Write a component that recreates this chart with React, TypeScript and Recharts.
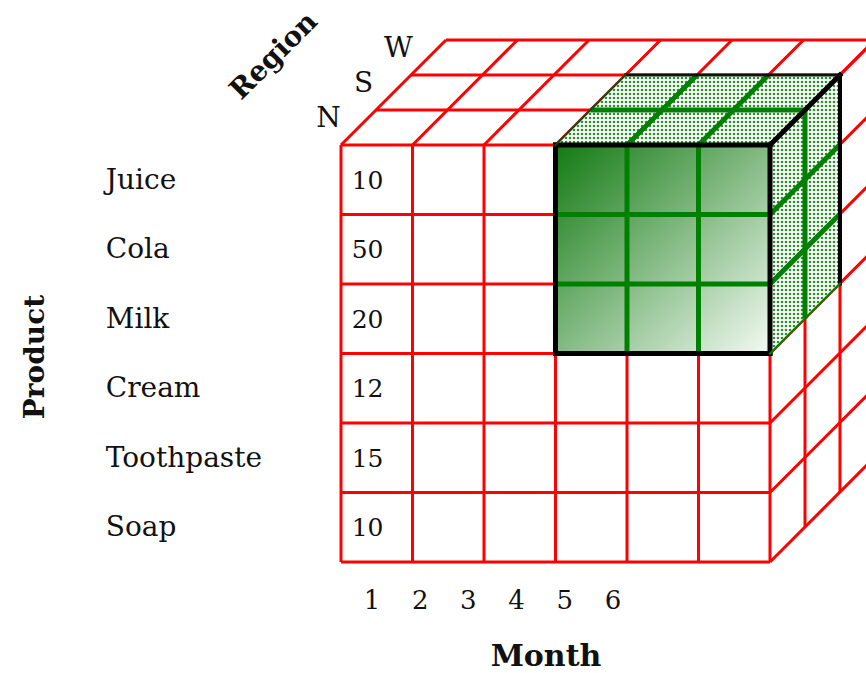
import React from 'react';
import { ComposedChart, XAxis, YAxis, Area, Scatter, ReferenceLine, Customized } from 'recharts';

// cube dimensions
const products = ['Juice', 'Cola', 'Milk', 'Cream', 'Toothpaste', 'Soap'];
const months = [1, 2, 3, 4, 5, 6];
const regions = ['N', 'S', 'W'];
// sales shown in the month-1 column, region N
const month1Sales = [10, 50, 20, 12, 15, 10];

// highlighted sub-cube: months 4..6, products Juice..Milk, regions N..S
const sliceMonths = [4, 5, 6];
const sliceProducts = ['Juice', 'Cola', 'Milk'];
const sliceRegions = ['N', 'S'];

const W = 866;
const H = 673;
const FONT = '"DejaVu Serif", serif';
const RED = '#ff0000';
const GREEN = '#008000';

// oblique projection of the depth (region) axis, in grid units
const DX = 0.4895;
const DY = 0.5036;
const X_DOMAIN = [-4.7692, 7.3427];
const Y_DOMAIN = [-1.5971, 8.0863];
// month tick row sits below the cube with its own spacing
const MONTH_DOMAIN = [-6.7178, 11.249];
const MONTH_ROW_Y = -0.55;

const nM = months.length;
const nP = products.length;
const nR = regions.length;

type Pt = { x: number; y: number };
const proj = (x: number, y: number, d: number): Pt => ({ x: x + d * DX, y: y + d * DY });
const seg = (a: Pt, b: Pt) => [a, b];

// red wire grid
const redSegs: Pt[][] = [];
for (let j = 0; j <= nP; j++) redSegs.push(seg(proj(0, j, 0), proj(nM, j, 0)));
for (let i = 0; i <= nM; i++) redSegs.push(seg(proj(i, 0, 0), proj(i, nP, 0)));
for (let d = 1; d <= nR; d++) redSegs.push(seg(proj(0, nP, d), proj(nM, nP, d)));
for (let i = 0; i <= nM; i++) redSegs.push(seg(proj(i, nP, 0), proj(i, nP, nR)));
for (let d = 1; d <= nR; d++) redSegs.push(seg(proj(nM, 0, d), proj(nM, nP, d)));
for (let j = 0; j <= nP; j++) redSegs.push(seg(proj(nM, j, 0), proj(nM, j, nR)));

// slice bounds in grid units
const sx0 = months.indexOf(sliceMonths[0]);
const sx1 = months.indexOf(sliceMonths[sliceMonths.length - 1]) + 1;
const sy1 = nP - products.indexOf(sliceProducts[0]);
const sy0 = nP - products.indexOf(sliceProducts[sliceProducts.length - 1]) - 1;
const sd = regions.indexOf(sliceRegions[sliceRegions.length - 1]) + 1;

const frontFace = [
  { x: sx0, r: [sy0, sy1] },
  { x: sx1, r: [sy0, sy1] },
];
const topFace = [
  { x: sx0, r: [sy1, sy1] },
  { x: sx0 + sd * DX, r: [sy1, sy1 + sd * DY] },
  { x: sx1, r: [sy1, sy1 + sd * DY] },
  { x: sx1 + sd * DX, r: [sy1 + sd * DY, sy1 + sd * DY] },
];
const sideFace = [
  { x: sx1, r: [sy0, sy1] },
  { x: sx1 + sd * DX, r: [sy0 + sd * DY, sy1 + sd * DY] },
];

const greenSegs: Pt[][] = [];
for (let i = sx0 + 1; i < sx1; i++) {
  greenSegs.push(seg(proj(i, sy0, 0), proj(i, sy1, 0)));
  greenSegs.push(seg(proj(i, sy1, 0), proj(i, sy1, sd)));
}
for (let j = sy0 + 1; j < sy1; j++) {
  greenSegs.push(seg(proj(sx0, j, 0), proj(sx1, j, 0)));
  greenSegs.push(seg(proj(sx1, j, 0), proj(sx1, j, sd)));
}
for (let d = 1; d < sd; d++) {
  greenSegs.push(seg(proj(sx0, sy1, d), proj(sx1, sy1, d)));
  greenSegs.push(seg(proj(sx1, sy0, d), proj(sx1, sy1, d)));
}

const edges = [
  { s: seg(proj(sx0, sy0, 0), proj(sx1, sy0, 0)), c: '#000', w: 5 },
  { s: seg(proj(sx0, sy1, 0), proj(sx1, sy1, 0)), c: '#000', w: 5 },
  { s: seg(proj(sx0, sy0, 0), proj(sx0, sy1, 0)), c: '#000', w: 5 },
  { s: seg(proj(sx1, sy0, 0), proj(sx1, sy1, 0)), c: '#000', w: 5 },
  { s: seg(proj(sx1, sy1, 0), proj(sx1, sy1, sd)), c: '#000', w: 5 },
  { s: seg(proj(sx1, sy0, sd), proj(sx1, sy1, sd)), c: '#000', w: 4 },
  { s: seg(proj(sx0, sy1, sd), proj(sx1, sy1, sd)), c: '#111', w: 3 },
  { s: seg(proj(sx0, sy1, 0), proj(sx0, sy1, sd)), c: '#0a4f0a', w: 2 },
  { s: seg(proj(sx1, sy0, 0), proj(sx1, sy0, sd)), c: GREEN, w: 2 },
];

// text marks placed through the scales
const LABEL_X = -3.29;
const VALUE_X = 0.15;
const productLabels = products.map((p, i) => ({ x: LABEL_X, y: nP - i - 0.5, label: p }));
const valueLabels = month1Sales.map((v, i) => ({ x: VALUE_X, y: nP - i - 0.5, label: String(v) }));
const regionLabels = regions.map((r, d) => ({ ...proj(0, nP, d + 0.5), label: r }));
const monthLabels = months.map((m) => ({ x: m, y: MONTH_ROW_Y, label: String(m) }));

const textShape = (opts: { size: number; anchor: string; dx: number; dy: number }) => (props: any) => {
  const { cx, cy, payload } = props;
  return (
    <text
      x={cx + opts.dx}
      y={cy + opts.dy}
      fontFamily={FONT}
      fontSize={opts.size}
      fill="#111"
      textAnchor={opts.anchor}
    >
      {payload.label}
    </text>
  );
};

function Titles() {
  const common = { fontFamily: FONT, fontWeight: 700, fill: '#111', textAnchor: 'middle' as const };
  return (
    <g>
      <text {...common} fontSize={28} transform="translate(44,357) rotate(-90)">Product</text>
      <text {...common} fontSize={28} transform="translate(280,62) rotate(-45)">Region</text>
      <text {...common} fontSize={30} x={546} y={666}>Month</text>
    </g>
  );
}

export default function App() {
  const ax = { xAxisId: 'g', yAxisId: 'g' };
  return (
    <div style={{ position: 'absolute', left: 0, top: 0, width: W, height: H, background: '#fff' }}>
      <ComposedChart width={W} height={H} margin={{ top: 0, right: 0, bottom: 0, left: 0 }}>
        <defs>
          <linearGradient id="sliceGrad" x1="0" y1="0" x2="1" y2="1">
            <stop offset="0%" stopColor="#137a13" />
            <stop offset="100%" stopColor="#f4faf4" />
          </linearGradient>
          <pattern id="sliceDots" width="4" height="4" patternUnits="userSpaceOnUse">
            <rect width="4" height="4" fill="#ffffff" />
            <circle cx="2" cy="2" r="1.3" fill="#2e8f2e" />
          </pattern>
        </defs>
        <XAxis xAxisId="g" dataKey="x" type="number" domain={X_DOMAIN} allowDataOverflow hide />
        <XAxis xAxisId="m" dataKey="x" type="number" domain={MONTH_DOMAIN} allowDataOverflow hide />
        <YAxis yAxisId="g" type="number" domain={Y_DOMAIN} allowDataOverflow hide />

        {redSegs.map((s, k) => (
          <ReferenceLine key={'r' + k} {...ax} segment={s} stroke={RED} strokeWidth={3} ifOverflow="visible" zIndex={50} />
        ))}

        <Area {...ax} data={frontFace} dataKey="r" type="linear" stroke="none" fill="url(#sliceGrad)" fillOpacity={1} dot={false} activeDot={false} isAnimationActive={false} zIndex={100} />
        <Area {...ax} data={topFace} dataKey="r" type="linear" stroke="none" fill="url(#sliceDots)" fillOpacity={1} dot={false} activeDot={false} isAnimationActive={false} zIndex={100} />
        <Area {...ax} data={sideFace} dataKey="r" type="linear" stroke="none" fill="url(#sliceDots)" fillOpacity={1} dot={false} activeDot={false} isAnimationActive={false} zIndex={100} />

        {greenSegs.map((s, k) => (
          <ReferenceLine key={'g' + k} {...ax} segment={s} stroke={GREEN} strokeWidth={5} ifOverflow="visible" zIndex={150} />
        ))}
        {edges.map((e, k) => (
          <ReferenceLine key={'e' + k} {...ax} segment={e.s} stroke={e.c} strokeWidth={e.w} strokeLinecap="square" ifOverflow="visible" zIndex={160} />
        ))}

        <Scatter {...ax} data={productLabels} dataKey="y" isAnimationActive={false} shape={textShape({ size: 28, anchor: 'start', dx: 0, dy: 9 })} />
        <Scatter {...ax} data={valueLabels} dataKey="y" isAnimationActive={false} shape={textShape({ size: 25, anchor: 'start', dx: 0, dy: 9 })} />
        <Scatter {...ax} data={regionLabels} dataKey="y" isAnimationActive={false} shape={textShape({ size: 28, anchor: 'middle', dx: -30, dy: 0 })} />
        <Scatter xAxisId="m" yAxisId="g" data={monthLabels} dataKey="y" isAnimationActive={false} shape={textShape({ size: 26, anchor: 'middle', dx: 0, dy: 9 })} />

        <Customized component={<Titles />} />
      </ComposedChart>
    </div>
  );
}
